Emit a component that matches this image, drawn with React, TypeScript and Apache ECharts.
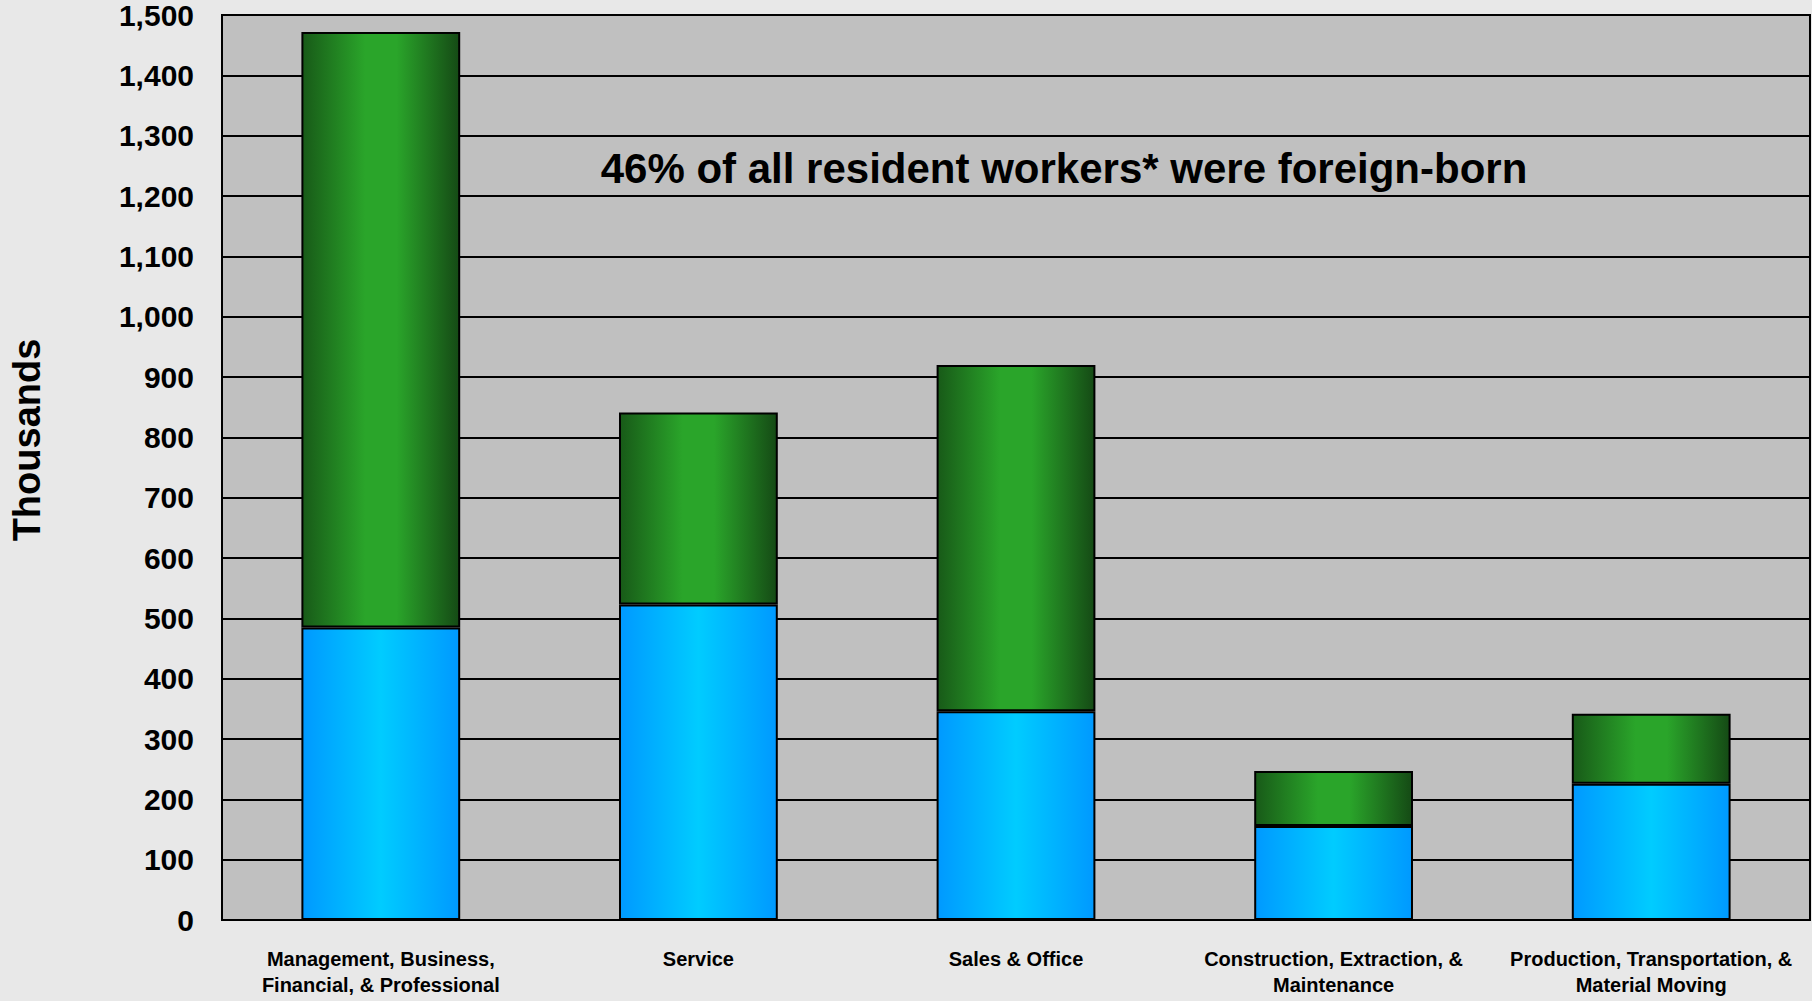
import React, { useEffect, useRef } from "react";
import * as echarts from "echarts";

const categories = [
  "Management, Business,\nFinancial, & Professional",
  "Service",
  "Sales & Office",
  "Construction, Extraction, &\nMaintenance",
  "Production, Transportation, &\nMaterial Moving",
];
const foreignBorn = [485, 523, 346, 156, 226];
const nativeBorn = [987, 318, 574, 91, 116];
const yTicks = { min: 0, max: 1500, interval: 100 };
const yTitle = "Thousands";
const annotation = "46% of all resident workers* were foreign-born";

export default function App() {
  const ref = useRef<HTMLDivElement>(null);
  useEffect(() => {
    if (!ref.current) return;
    const chart = echarts.init(ref.current, null, { renderer: "svg" });
    const blue = new echarts.graphic.LinearGradient(0, 0, 1, 0, [
      { offset: 0, color: "#0099ff" },
      { offset: 0.5, color: "#00ccff" },
      { offset: 1, color: "#0099ff" },
    ]);
    const green = new echarts.graphic.LinearGradient(0, 0, 1, 0, [
      { offset: 0, color: "#185a18" },
      { offset: 0.4, color: "#2aa52a" },
      { offset: 0.6, color: "#2aa52a" },
      { offset: 1, color: "#154a15" },
    ]);
    chart.setOption({
      animation: false,
      backgroundColor: "#e8e8e8",
      grid: {
        left: 222,
        right: 2,
        top: 15,
        bottom: 81,
        show: true,
        backgroundColor: "#c0c0c0",
        borderColor: "#000",
        borderWidth: 2,
      },
      xAxis: {
        type: "category",
        data: categories,
        axisLine: { show: true, lineStyle: { color: "#000", width: 2 } },
        axisTick: { show: false },
        axisLabel: {
          color: "#000",
          fontWeight: "bold",
          fontSize: 20,
          fontFamily: "'Liberation Sans Narrow', 'Arial Narrow', 'Liberation Sans', Arial, sans-serif",
          lineHeight: 26,
          margin: 26,
          interval: 0,
        },
      },
      yAxis: {
        type: "value",
        min: yTicks.min,
        max: yTicks.max,
        interval: yTicks.interval,
        axisLine: { show: true, lineStyle: { color: "#000", width: 2 } },
        axisTick: { show: false },
        splitLine: { show: true, lineStyle: { color: "#000", width: 2 } },
        axisLabel: {
          color: "#000",
          fontWeight: "bold",
          fontSize: 30,
          fontFamily: "'Liberation Sans', Arial, sans-serif",
          margin: 28,
          formatter: (v: number) => v.toLocaleString("en-US"),
        },
      },
      series: [
        {
          name: "Foreign-born",
          type: "bar",
          stack: "total",
          data: foreignBorn,
          barWidth: "50%",
          itemStyle: { color: blue, borderColor: "#000", borderWidth: 2 },
        },
        {
          name: "Native-born",
          type: "bar",
          stack: "total",
          data: nativeBorn,
          barWidth: "50%",
          itemStyle: { color: green, borderColor: "#000", borderWidth: 2 },
        },
      ],
      graphic: [
        {
          type: "text",
          x: 1064,
          y: 168,
          style: {
            text: annotation,
            fill: "#000",
            font: "bold 42px 'Liberation Sans', Arial, sans-serif",
            textAlign: "center",
            textVerticalAlign: "middle",
          },
        },
        {
          type: "text",
          x: 27,
          y: 440,
          rotation: Math.PI / 2,
          style: {
            text: yTitle,
            fill: "#000",
            font: "bold 38px 'Liberation Sans', Arial, sans-serif",
            textAlign: "center",
            textVerticalAlign: "middle",
          },
        },
      ],
    });
    return () => chart.dispose();
  }, []);
  return (
    <div
      ref={ref}
      style={{ position: "fixed", left: 0, top: 0, width: 1812, height: 1001 }}
    />
  );
}
